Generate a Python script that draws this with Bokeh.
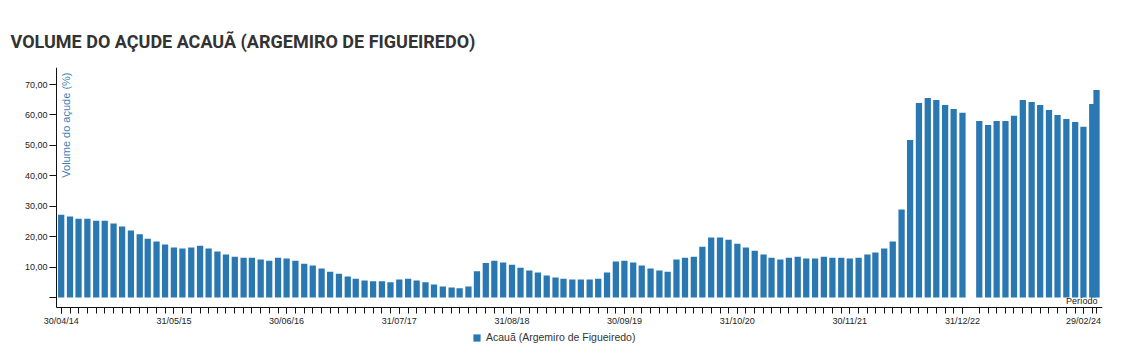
from datetime import datetime
from math import pi

from bokeh.plotting import figure
from bokeh.models import (Range1d, FixedTicker, Label, Legend, LegendItem, Title, Div,
                          ColumnDataSource)
from bokeh.layouts import column
from bokeh.embed import file_html
from bokeh.resources import INLINE

# ---------------- data ----------------
dates = [
    "30/04/14", "31/05/14", "30/06/14", "31/07/14", "31/08/14", "30/09/14", "31/10/14", "30/11/14", "31/12/14",
    "31/01/15", "28/02/15", "31/03/15", "30/04/15", "31/05/15", "30/06/15", "31/07/15", "31/08/15", "30/09/15",
    "31/10/15", "30/11/15", "31/12/15",
    "31/01/16", "29/02/16", "31/03/16", "30/04/16", "31/05/16", "30/06/16", "31/07/16", "31/08/16", "30/09/16",
    "31/10/16", "30/11/16", "31/12/16",
    "31/01/17", "28/02/17", "31/03/17", "30/04/17", "31/05/17", "30/06/17", "31/07/17", "31/08/17", "30/09/17",
    "31/10/17", "30/11/17", "31/12/17",
    "31/01/18", "28/02/18", "31/03/18", "30/04/18", "31/05/18", "30/06/18", "31/07/18", "31/08/18", "30/09/18",
    "31/10/18", "30/11/18", "31/12/18",
    "31/01/19", "28/02/19", "31/03/19", "30/04/19", "31/05/19", "30/06/19", "31/07/19", "31/08/19", "30/09/19",
    "31/10/19", "30/11/19", "31/12/19",
    "31/01/20", "29/02/20", "31/03/20", "30/04/20", "31/05/20", "30/06/20", "31/07/20", "31/08/20", "30/09/20",
    "31/10/20", "30/11/20", "31/12/20",
    "31/01/21", "28/02/21", "31/03/21", "30/04/21", "31/05/21", "30/06/21", "31/07/21", "31/08/21", "30/09/21",
    "31/10/21", "30/11/21", "31/12/21",
    "31/01/22", "28/02/22", "31/03/22", "30/04/22", "31/05/22", "30/06/22", "31/07/22", "31/08/22", "30/09/22",
    "31/10/22", "30/11/22", "31/12/22",
    "28/02/23", "31/03/23", "30/04/23", "31/05/23", "30/06/23", "31/07/23", "31/08/23", "30/09/23",
    "31/10/23", "30/11/23", "31/12/23",
    "31/01/24", "29/02/24", "31/03/24", "15/04/24",
]

volume = [
    27.2, 26.6, 25.9, 25.9, 25.2, 25.2, 24.3, 23.3, 22.0,
    20.8, 19.3, 18.4, 17.4, 16.4, 16.1, 16.4, 17.0, 16.1,
    15.1, 14.1, 13.4,
    13.1, 13.1, 12.5, 12.1, 13.1, 12.8, 12.1, 11.1, 10.5,
    9.5, 8.5, 7.8,
    6.9, 6.2, 5.6, 5.3, 5.3, 5.0, 5.9, 6.2, 5.6,
    5.0, 4.3, 3.6,
    3.3, 3.0, 3.6, 8.6, 11.3, 12.1, 11.5, 10.8, 9.8,
    8.9, 8.2, 7.2,
    6.6, 6.2, 5.9, 5.9, 5.9, 6.2, 8.2, 11.8, 12.1,
    11.5, 10.5, 9.5,
    8.9, 8.5, 12.5, 13.1, 13.4, 16.7, 19.7, 19.7, 19.0,
    17.7, 16.4, 15.4,
    14.1, 13.1, 12.5, 13.1, 13.4, 12.8, 12.8, 13.4, 13.1,
    13.1, 12.8, 13.1,
    14.1, 14.8, 16.1, 18.4, 28.9, 51.8, 63.9, 65.6, 64.9,
    63.3, 62.0, 60.7,
    58.0, 56.7, 58.0, 58.0, 59.7, 64.9, 64.3, 63.3,
    61.6, 60.0, 58.7,
    57.7, 56.1, 63.6, 68.2,
]

x_tick_labels = ["30/04/14", "31/05/15", "30/06/16", "31/07/17", "31/08/18",
                 "30/09/19", "31/10/20", "30/11/21", "31/12/22", "29/02/24"]
y_ticks = [0, 10, 20, 30, 40, 50, 60, 70]
y_tick_labels = ["", "10,00", "20,00", "30,00", "40,00", "50,00", "60,00", "70,00"]

title_text = "VOLUME DO AÇUDE ACAUÃ (ARGEMIRO DE FIGUEIREDO)"
series_name = "Acauã (Argemiro de Figueiredo)"
y_label_text = "Volume do açude (%)"
x_label_text = "Período"

# ---------------- build ----------------
def to_dt(s):
    return datetime.strptime(s, "%d/%m/%y")

def to_ms(d):
    return (d - datetime(1970, 1, 1)).total_seconds() * 1000.0

xs = [to_dt(s) for s in dates]
src = ColumnDataSource(dict(x=xs, v=volume))

DAY = 86400000.0
axis_x0 = datetime(2014, 4, 13, 12)   # where the value axis stands
x_end = datetime(2024, 5, 6)
# frame starts 46 px left of the value axis so tick labels are not clipped
frame_x0 = axis_x0 - (x_end - axis_x0) * (46.0 / 1046.0)

axis_min, y_top = -3.3, 75.6     # visible value axis extent
frame_bottom = -17.75            # frame extends below the x axis to hold the legend

BAR = "#2a78b2"
TEXT = "#222222"

p = figure(width=1122, height=351, x_axis_type="datetime",
           x_range=Range1d(frame_x0, x_end), y_range=Range1d(frame_bottom, y_top),
           output_backend="svg", toolbar_location=None,
           min_border_left=10, min_border_right=20, min_border_top=61, min_border_bottom=6)
p.outline_line_color = None
p.xgrid.visible = False
p.ygrid.visible = False
p.background_fill_color = "white"
p.border_fill_color = "white"

bars = p.vbar(x="x", top="v", bottom=0, width=22 * DAY, source=src,
              fill_color=BAR, line_color=None)

# x axis
xt = [to_ms(to_dt(s)) for s in x_tick_labels]
xa = p.xaxis[0]
xa.fixed_location = axis_min
xa.bounds = (to_ms(axis_x0), to_ms(x_end))
xa.ticker = FixedTicker(ticks=xt, minor_ticks=[to_ms(d) for d in xs])
xa.major_label_overrides = {t: s for t, s in zip(xt, x_tick_labels)}
xa.major_tick_out = 6
xa.major_tick_in = 0
xa.minor_tick_out = 6
xa.minor_tick_in = 0
xa.major_label_standoff = 2
xa.major_label_text_font = "Liberation Sans"
xa.major_label_text_font_size = "9px"
xa.major_label_text_color = TEXT
xa.axis_line_color = "#111111"
xa.major_tick_line_color = "#111111"
xa.minor_tick_line_color = "#111111"

# y axis
ya = p.yaxis[0]
ya.fixed_location = to_ms(axis_x0)
ya.bounds = (axis_min, y_top)
ya.ticker = FixedTicker(ticks=y_ticks, minor_ticks=[])
ya.major_label_overrides = {t: s for t, s in zip(y_ticks, y_tick_labels)}
ya.major_tick_out = 7
ya.major_tick_in = 0
ya.minor_tick_out = 0
ya.minor_tick_in = 0
ya.major_label_standoff = 2
ya.major_label_text_font = "Liberation Sans"
ya.major_label_text_font_size = "9px"
ya.major_label_text_color = TEXT
ya.axis_line_color = "#111111"
ya.major_tick_line_color = "#111111"

# legend under the x axis
legend = Legend(items=[LegendItem(label=series_name, renderers=[bars])],
                location=(462, 8), orientation="horizontal",
                glyph_width=9, glyph_height=9, label_height=9, label_standoff=5,
                padding=0, margin=0, border_line_alpha=0, background_fill_alpha=0,
                label_text_font="Liberation Sans", label_text_font_size="10.5px",
                label_text_color="#333333")
p.add_layout(legend, "center")

# title
p.add_layout(Title(text=title_text, align="left", offset=0, standoff=31,
                   text_font="Roboto", text_font_size="18px",
                   text_font_style="bold", text_color="#333333"), "above")

# axis labels inside the frame
p.add_layout(Label(x=axis_x0, y=y_top, x_offset=3, y_offset=-5, angle=pi / 2,
                   text=y_label_text, text_align="right", text_baseline="top",
                   text_font="Liberation Sans", text_font_size="11px",
                   text_color="#3f7fb2"))
p.add_layout(Label(x=x_end, y=axis_min, x_offset=-5, y_offset=2,
                   text=x_label_text, text_align="right", text_baseline="bottom",
                   text_font="Liberation Sans", text_font_size="9px",
                   text_color=TEXT))

top_line = Div(text='<div style="margin:2px 0 0 10px;width:1090px;height:0;'
                    'border-top:1px solid #d2d2d2"></div>',
               width=1122, height=6, margin=(0, 0, 0, 0))

layout = column(top_line, p, spacing=0)
open("out.html", "w").write(file_html(layout, INLINE))
